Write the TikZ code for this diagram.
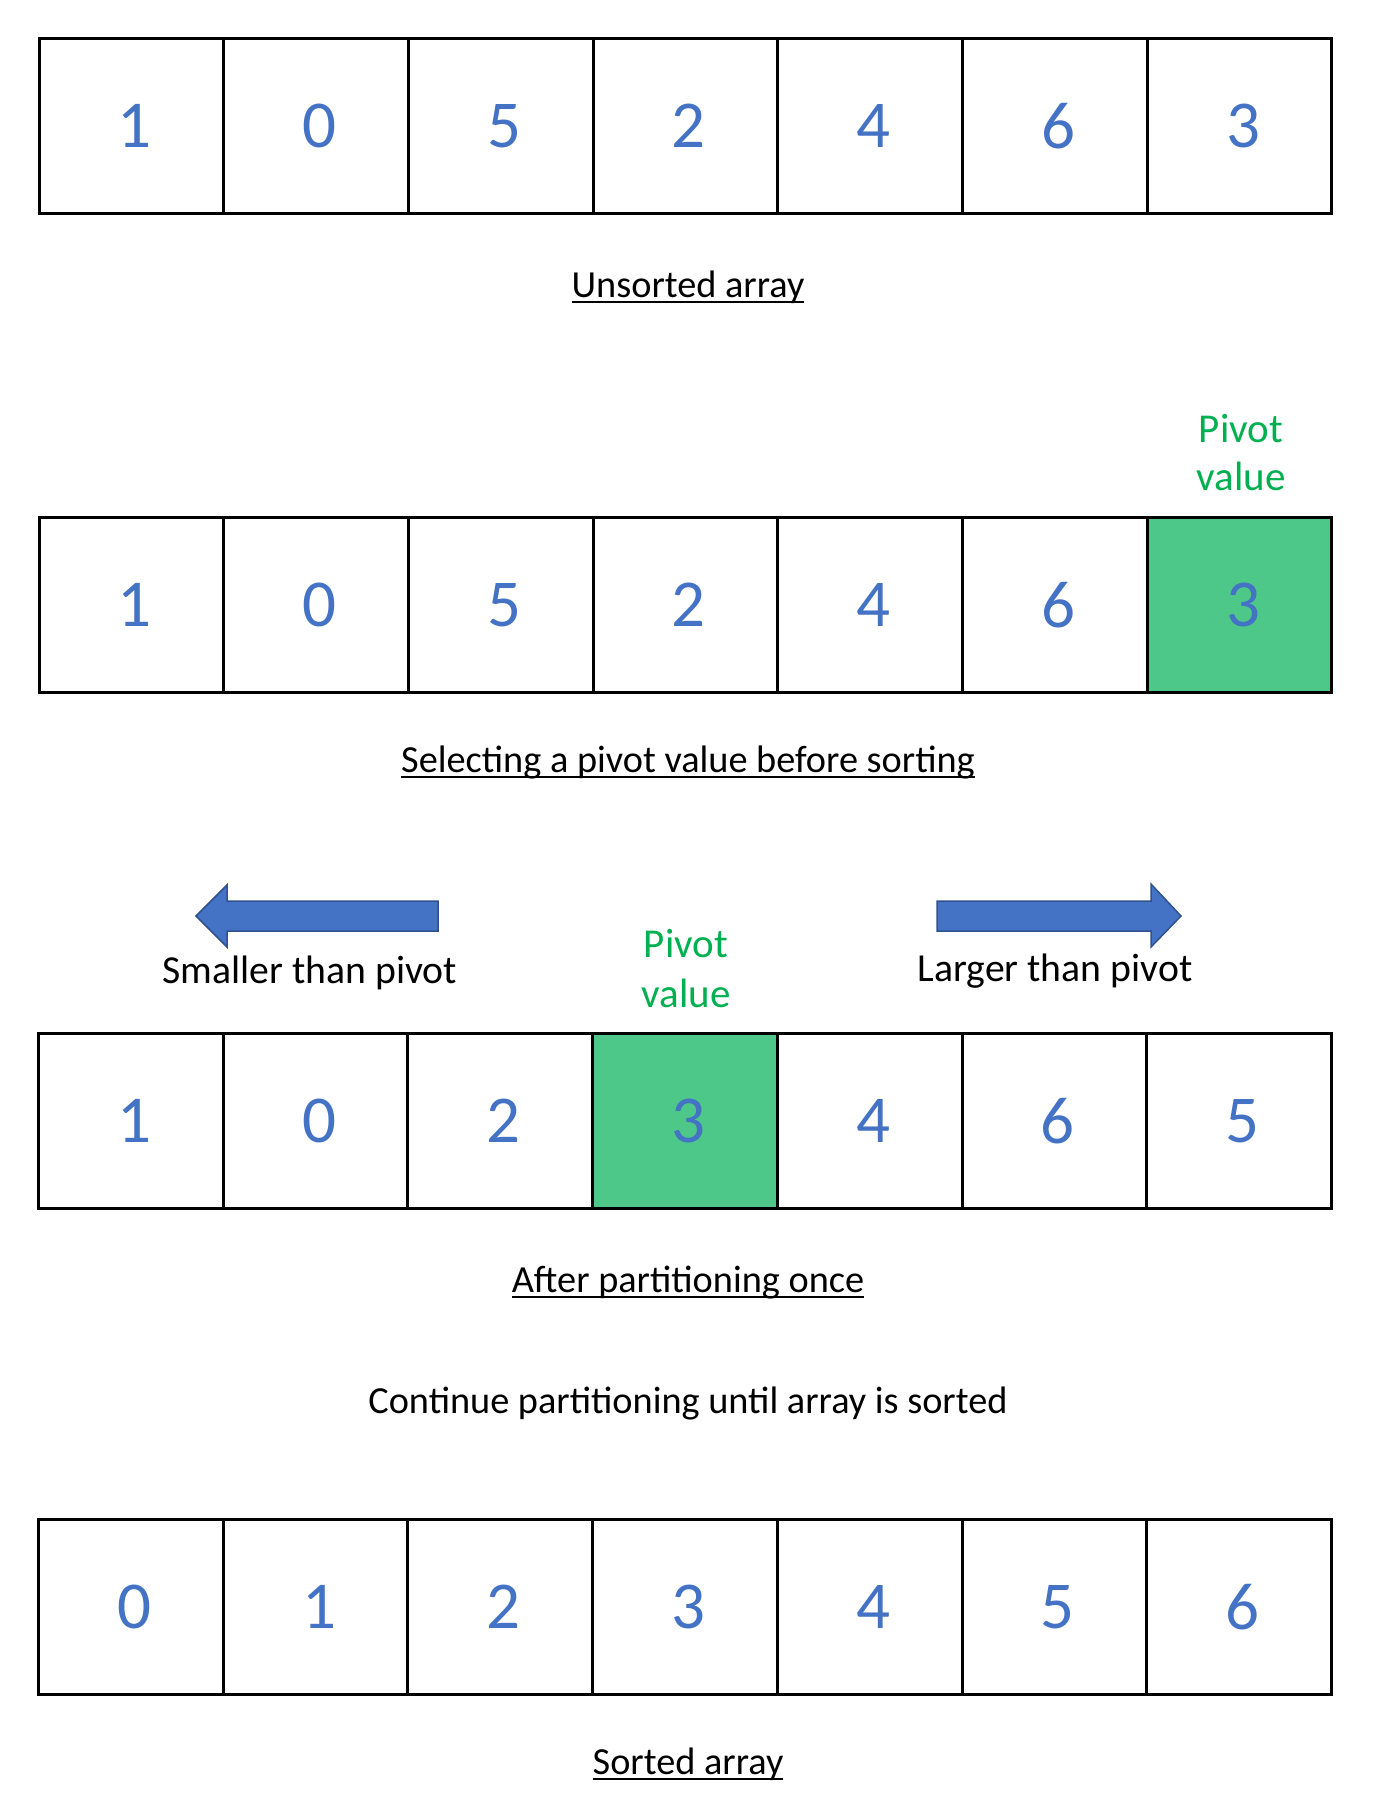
\documentclass[tikz,border=0pt]{standalone}
\usepackage{fontspec}
\setmainfont{Carlito}
\definecolor{numblue}{HTML}{4472C4}
\definecolor{pivgreen}{HTML}{00B050}
\definecolor{pivfill}{HTML}{4EC889}
\definecolor{arrowline}{HTML}{2F528F}
\newcommand\ulab[1]{\setbox0\hbox{#1}\rlap{\rule[-6.3pt]{\wd0}{2.6pt}}\box0}
\newcommand\dig[1]{\kern7pt#1}
\begin{document}
\begin{tikzpicture}[x=1pt,y=-1pt,
  cell/.style={draw=black,line width=3pt,minimum width=184.7pt,minimum height=175pt,
    inner sep=0pt,text=numblue,font=\fontsize{67}{80}\selectfont},
  pivcell/.style={cell,fill=pivfill},
  lab/.style={anchor=base,inner sep=0pt,font=\fontsize{38.3}{46}\selectfont},
  arrlab/.style={anchor=base,inner sep=0pt,font=\fontsize{39.7}{48}\selectfont},
  pivlab/.style={anchor=base,inner sep=0pt,text=pivgreen,font=\fontsize{41}{50}\selectfont,align=center},
  bigarrow/.style={fill=numblue,draw=arrowline,line width=1.5pt,line join=miter}]
\useasboundingbox (0,0) rectangle (1376,1800);
% Array 1
\foreach \v [count=\i] in {1,0,5,2,4,6,3}
  \node[cell] (a\i) at ({39+92.35+(\i-1)*184.7},126) {\dig{\v}};
\node[lab] (la) at (688,297) {\ulab{Unsorted array}};
% Array 2
\foreach \v [count=\i] in {1,0,5,2,4,6}
  \node[cell] (b\i) at ({39+92.35+(\i-1)*184.7},605) {\dig{\v}};
\node[pivcell] (b7) at ({39+92.35+6*184.7},605) {\dig{3}};
\node[pivlab] (pb1) at (1241,442) {Pivot};
\node[pivlab] (pb2) at (1241,490) {value};
\node[lab] (lb) at (688,772) {\ulab{Selecting a pivot value before sorting}};
% Arrows
\draw[bigarrow] (438,901) -- (227,901) -- (227,885) -- (196,916) -- (227,947) -- (227,931) -- (438,931) -- cycle;
\draw[bigarrow] (937,901) -- (1151,901) -- (1151,884) -- (1181,916) -- (1151,947) -- (1151,931) -- (937,931) -- cycle;
\node[arrlab] (ls) at (310,983) {Smaller than pivot};
\node[arrlab] (ll) at (1055,981) {Larger than pivot};
% Array 3
\foreach \v [count=\i] in {1,0,2}
  \node[cell] (c\i) at ({38.5+92.35+(\i-1)*184.7},1121) {\dig{\v}};
\foreach \v [count=\i from 5] in {4,6,5}
  \node[cell] (c\i) at ({38.5+92.35+(\i-1)*184.7},1121) {\dig{\v}};
\node[pivcell] (c4) at ({38.5+92.35+3*184.7},1121) {\dig{3}};
\node[pivlab] (pc1) at (686,957) {Pivot};
\node[pivlab] (pc2) at (686,1007) {value};
\node[lab] (lc) at (688,1292) {\ulab{After partitioning once}};
\node[lab] (lcont) at (688,1413) {Continue partitioning until array is sorted};
% Array 4
\foreach \v [count=\i] in {0,1,2,3,4,5,6}
  \node[cell] (d\i) at ({38.5+92.35+(\i-1)*184.7},1607) {\dig{\v}};
\node[lab] (ld) at (688,1774) {\ulab{Sorted array}};
\end{tikzpicture}
\end{document}
